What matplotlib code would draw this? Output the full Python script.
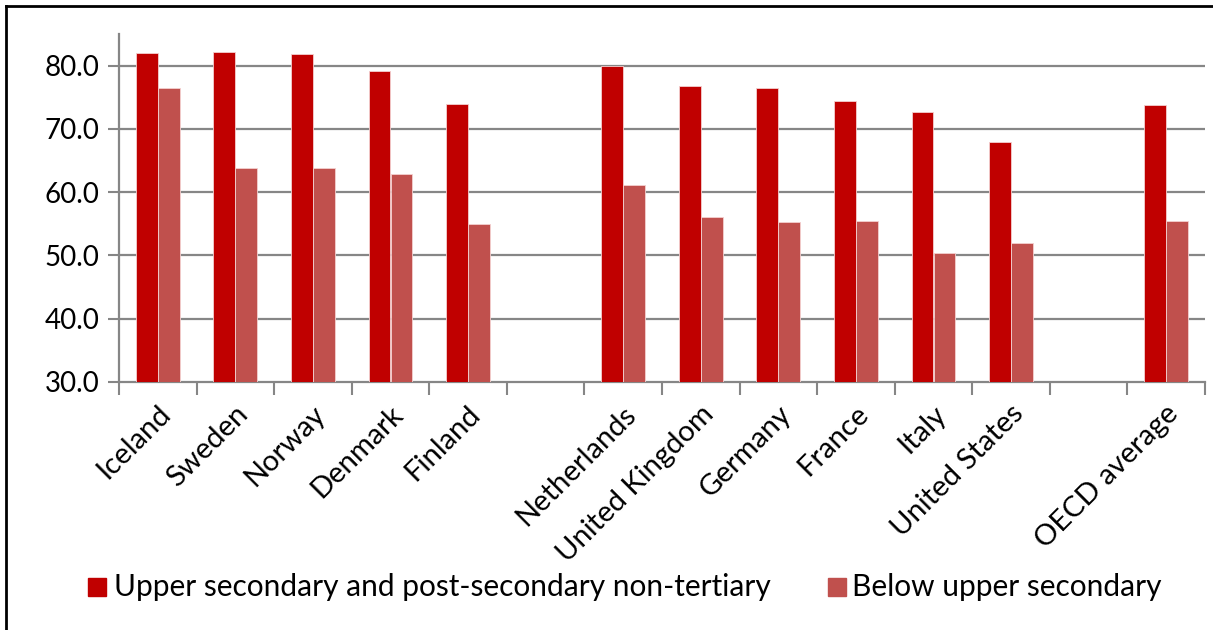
import numpy as np
import matplotlib
matplotlib.use("Agg")
import matplotlib.pyplot as plt
from matplotlib.patches import Rectangle

plt.rcParams['font.family'] = ['Lato', 'DejaVu Sans']

categories = ["Iceland", "Sweden", "Norway", "Denmark", "Finland", "",
              "Netherlands", "United Kingdom", "Germany", "France", "Italy",
              "United States", "", "OECD average"]
upper_secondary = [82.0, 82.1, 81.8, 79.1, 74.0, None,
                   80.0, 76.8, 76.4, 74.4, 72.6, 67.9, None, 73.7]
below_upper = [76.5, 63.8, 63.9, 62.9, 54.9, None,
               61.1, 56.0, 55.3, 55.4, 50.4, 52.0, None, 55.4]
series_names = ["Upper secondary and post-secondary non-tertiary",
                "Below upper secondary"]
yticks = [30, 40, 50, 60, 70, 80]

c_upper = "#C00000"
c_below = "#C0504D"
grid_c = "#868686"

W, H = 1213, 630
fig = plt.figure(figsize=(W / 100, H / 100), dpi=100)
ax = fig.add_axes([119 / W, 1 - 382 / H, (1205 - 119) / W, (382 - 34) / H])

x = np.arange(len(categories))
bw = 0.283
for xi, u, b in zip(x, upper_secondary, below_upper):
    if u is not None:
        ax.bar(xi - bw / 2, u, width=bw, color=c_upper, edgecolor="#f4d0d0",
               linewidth=0.6, zorder=3)
    if b is not None:
        ax.bar(xi + bw / 2, b, width=bw, color=c_below, edgecolor="#f4d0d0",
               linewidth=0.6, zorder=3)

ax.set_xlim(-0.5, len(categories) - 0.5)
ax.set_ylim(30, 85)
ax.set_yticks(yticks)
ax.set_yticklabels([f"{v:.1f}" for v in yticks], fontsize=20)
ax.tick_params(axis="y", length=8, width=1.5, color=grid_c, pad=6)
for v in yticks[1:]:
    ax.axhline(v, color=grid_c, linewidth=1.6, zorder=1)

# category boundary ticks on the x axis
ax.set_xticks(np.arange(len(categories) + 1) - 0.5, minor=False)
ax.set_xticklabels([])
ax.tick_params(axis="x", length=9, width=1.5, color=grid_c, direction="out")

for xi, name in zip(x, categories):
    if name:
        ax.annotate(name, xy=(xi, 30), xycoords="data",
                    xytext=(6, -20), textcoords="offset points",
                    rotation=45, ha="right", va="center",
                    rotation_mode="anchor", fontsize=21)

for s in ["top", "right"]:
    ax.spines[s].set_visible(False)
for s in ["left", "bottom"]:
    ax.spines[s].set_color(grid_c)
    ax.spines[s].set_linewidth(1.6)

# legend
leg_y = 1 - 587 / H
fig.patches.append(Rectangle((88 / W, 1 - 596 / H), 18 / W, 18 / H,
                             transform=fig.transFigure, color=c_upper))
fig.text(114 / W, leg_y, series_names[0], fontsize=21.5, va="center", ha="left")
fig.patches.append(Rectangle((828 / W, 1 - 596 / H), 18 / W, 18 / H,
                             transform=fig.transFigure, color=c_below))
fig.text(852 / W, leg_y, series_names[1], fontsize=21.5, va="center", ha="left")

# frame lines on the left and top of the figure
fig.add_artist(plt.Line2D([6 / W, 6 / W], [0, 1 - 6 / H], color="black",
                          linewidth=2, transform=fig.transFigure))
fig.add_artist(plt.Line2D([6 / W, 1], [1 - 6 / H, 1 - 6 / H], color="black",
                          linewidth=2, transform=fig.transFigure))

fig.savefig("out.png", dpi=100)
